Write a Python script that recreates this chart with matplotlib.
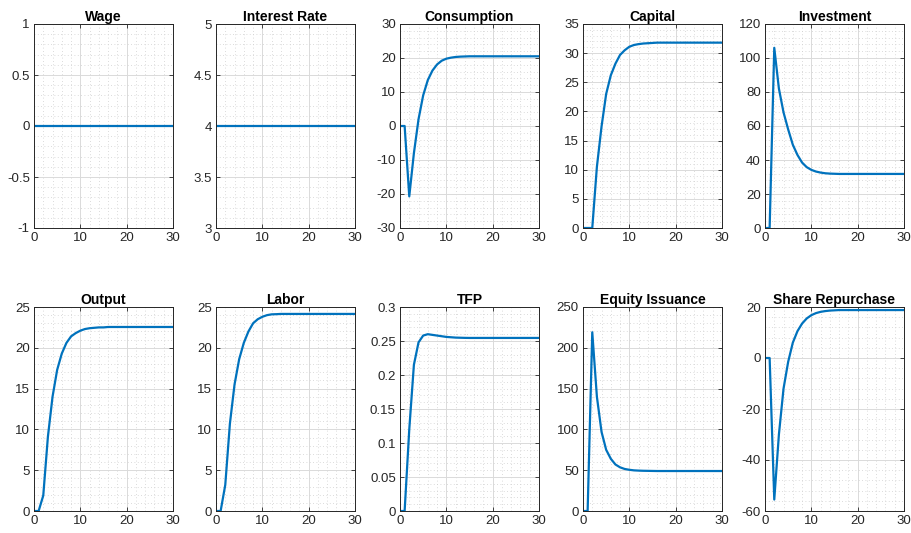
import numpy as np
import matplotlib
matplotlib.use('Agg')
import matplotlib.pyplot as plt
from matplotlib.ticker import AutoMinorLocator, FuncFormatter

plt.rcParams['font.family'] = ['Liberation Sans', 'DejaVu Sans']
plt.rcParams['axes.unicode_minus'] = False

# periods 0..30
t = np.arange(31)

wage = [0.0] * 31
interest = [4.0] * 31
consumption = [0, 0, -20.7, -8.0, 2.0, 9.0, 13.5, 16.3, 18.1, 19.2, 19.8, 20.1, 20.3, 20.4,
               20.45, 20.5] + [20.5] * 15
capital = [0, 0, 0, 10.5, 17.4, 23.0, 26.2, 28.2, 29.7, 30.5, 31.1, 31.4, 31.55, 31.65,
           31.7, 31.75] + [31.8] * 15
investment = [0, 0, 106, 82, 68, 58, 49, 43, 38.5, 35.8, 34.2, 33.2, 32.6, 32.2, 32.0,
              31.9] + [31.8] * 15
output = [0, 0, 1.9, 9.1, 14.0, 17.3, 19.3, 20.6, 21.4, 21.8, 22.1, 22.3, 22.4, 22.45,
          22.5, 22.5] + [22.55] * 15
labor = [0, 0, 3.2, 10.7, 15.5, 18.6, 20.6, 22.0, 23.0, 23.5, 23.8, 24.0, 24.1, 24.12,
         24.15, 24.15] + [24.15] * 15
tfp = [0, 0, 0.12, 0.215, 0.248, 0.258, 0.260, 0.259, 0.258, 0.257, 0.256, 0.2555, 0.255,
       0.2548, 0.2546, 0.2545] + [0.2545] * 15
equity = [0, 0, 219, 140, 97, 75, 64, 57, 53.5, 51.5, 50.5, 49.8, 49.5, 49.3, 49.2,
          49.1] + [49.0] * 15
repurchase = [0, 0, -55.5, -30, -12, -1.5, 6, 10.5, 13.5, 15.5, 16.8, 17.6, 18.1, 18.4,
              18.6, 18.7] + [18.8] * 15

titles = ['Wage', 'Interest Rate', 'Consumption', 'Capital', 'Investment',
          'Output', 'Labor', 'TFP', 'Equity Issuance', 'Share Repurchase']
series = [wage, interest, consumption, capital, investment,
          output, labor, tfp, equity, repurchase]
ylims = [(-1, 1), (3, 5), (-30, 30), (0, 35), (0, 120),
         (0, 25), (0, 25), (0, 0.3), (0, 250), (-60, 20)]
ysteps = [0.5, 0.5, 10, 5, 20, 5, 5, 0.05, 50, 20]

W, H = 912, 533
fig = plt.figure(figsize=(W / 100, H / 100), dpi=100)

lefts = [34, 216, 400, 583, 765]
tops = [24, 307]
aw, ah = 139, 204

for i, (name, y) in enumerate(zip(titles, series)):
    row, col = divmod(i, 5)
    x0 = lefts[col] / W
    y0 = 1 - (tops[row] + ah) / H
    ax = fig.add_axes([x0, y0, aw / W, ah / H])
    ax.plot(t, y, color='#0072BD', lw=1.6)
    ax.set_xlim(0, 30)
    ax.set_ylim(*ylims[i])
    ax.set_xticks([0, 10, 20, 30])
    lo, hi = ylims[i]
    ax.set_yticks(np.round(np.arange(lo, hi + ysteps[i] / 2, ysteps[i]), 6))
    ax.yaxis.set_major_formatter(FuncFormatter(lambda v, p: '%g' % v))
    ax.xaxis.set_minor_locator(AutoMinorLocator(5))
    ax.yaxis.set_minor_locator(AutoMinorLocator(5))
    ax.grid(True, which='major', color='#dadada', lw=0.7)
    ax.grid(True, which='minor', color='#cfcfcf', lw=0.6, ls=(0, (1, 3)))
    ax.set_axisbelow(True)
    ax.tick_params(which='both', direction='in', top=True, right=True,
                   labelsize=9.5, colors='#262626', length=3, width=0.6, pad=3)
    ax.tick_params(which='minor', length=0)
    for s in ax.spines.values():
        s.set_color('#262626')
        s.set_linewidth(0.7)
    ax.set_title(name, fontsize=10, fontweight='bold', pad=2)

fig.savefig('out.png', dpi=100)
